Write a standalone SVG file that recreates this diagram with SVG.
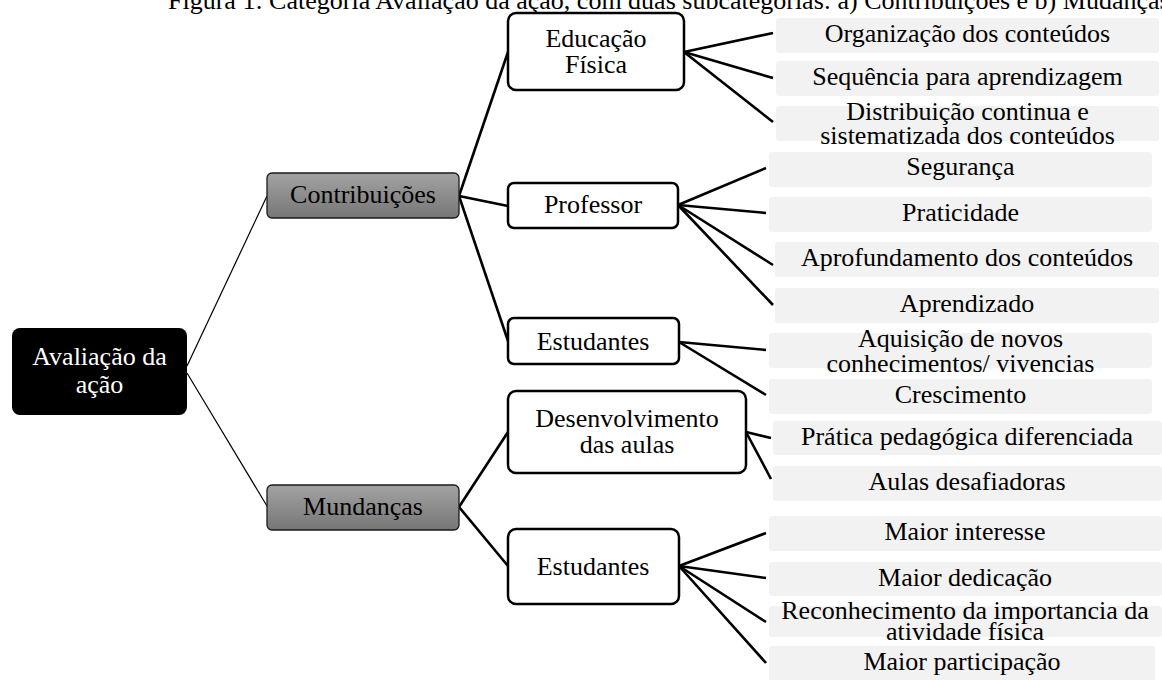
<svg xmlns="http://www.w3.org/2000/svg" width="1162" height="680" viewBox="0 0 1162 680">
<style>
text{font-family:"Liberation Serif","Times New Roman",serif;font-size:26px;fill:#000;text-anchor:middle}
.title{text-anchor:start}
.root rect{fill:#000}
.root text{fill:#fff}
.cat rect{fill:url(#g);stroke:#1a1a1a;stroke-width:1.3}
.sub rect{fill:#fff;stroke:#000;stroke-width:2.5}
.leaf rect{fill:#f2f2f2}
.thin{stroke:#000;stroke-width:1.2;fill:none}
.thick{stroke:#000;stroke-width:2.6;fill:none}
</style>
<defs>
<linearGradient id="g" x1="0" y1="0" x2="0" y2="1">
<stop offset="0" stop-color="#a3a3a3"/>
<stop offset="1" stop-color="#767676"/>
</linearGradient>
</defs>
<rect width="1162" height="680" fill="#fff"/>
<text class="title" x="168" y="9">Figura 1: Categoria Avaliação da ação, com duas subcategorias: a) Contribuições e b) Mudanças</text>
<g id="connectors">
<path class="thin" d="M187,366 L267,196"/>
<path class="thin" d="M187,373 L267,506"/>
<path class="thick" d="M459,196 L508,52"/>
<path class="thick" d="M459,196 L508,206"/>
<path class="thick" d="M459,196 L508,341"/>
<path class="thick" d="M459,507 L508,432"/>
<path class="thick" d="M459,507 L508,566"/>
<path class="thick" d="M684,52 L773,33"/>
<path class="thick" d="M684,52 L773,78"/>
<path class="thick" d="M684,52 L773,122"/>
<path class="thick" d="M678,205 L766,168"/>
<path class="thick" d="M678,205 L766,213"/>
<path class="thick" d="M678,205 L773,265"/>
<path class="thick" d="M678,205 L773,305"/>
<path class="thick" d="M679,342 L766,350"/>
<path class="thick" d="M679,342 L766,395"/>
<path class="thick" d="M746,432 L771,438"/>
<path class="thick" d="M746,432 L771,479"/>
<path class="thick" d="M679,566 L766,533"/>
<path class="thick" d="M679,566 L766,578"/>
<path class="thick" d="M679,566 L766,622"/>
<path class="thick" d="M679,566 L766,663"/>
</g>
<g id="root" class="root"><rect x="12" y="328" width="175" height="87" rx="8"/><text x="99.5" y="365">Avaliação da</text><text x="99.5" y="393">ação</text></g>
<g id="contribuicoes" class="cat"><rect x="267" y="173" width="192" height="45" rx="5"/><text x="363" y="203">Contribuições</text></g>
<g id="mundancas" class="cat"><rect x="267" y="485" width="192" height="45" rx="5"/><text x="363" y="515">Mundanças</text></g>
<g id="educacao" class="sub"><rect x="508" y="13" width="176" height="77" rx="8"/><text x="596" y="47">Educação</text><text x="596" y="73">Física</text></g>
<g id="professor" class="sub"><rect x="508" y="183" width="170" height="45" rx="6"/><text x="593" y="213">Professor</text></g>
<g id="estudantes1" class="sub"><rect x="508" y="318" width="171" height="46" rx="6"/><text x="593" y="350">Estudantes</text></g>
<g id="desenvolvimento" class="sub"><rect x="508" y="391" width="238" height="82" rx="8"/><text x="627" y="427">Desenvolvimento</text><text x="627" y="453">das aulas</text></g>
<g id="estudantes2" class="sub"><rect x="508" y="529" width="171" height="75" rx="8"/><text x="593" y="575">Estudantes</text></g>
<g id="leaf-org" class="leaf"><rect x="776" y="18" width="383" height="35" rx="3"/><text x="967.5" y="42">Organização dos conteúdos</text></g>
<g id="leaf-seq" class="leaf"><rect x="776" y="61" width="383" height="35" rx="3"/><text x="967.5" y="85">Sequência para aprendizagem</text></g>
<g id="leaf-dist" class="leaf"><rect x="776" y="106" width="383" height="35" rx="3"/><text x="967.5" y="120">Distribuição continua e</text><text x="967.5" y="144">sistematizada dos conteúdos</text></g>
<g id="leaf-seg" class="leaf"><rect x="769" y="152" width="383" height="35" rx="3"/><text x="960.5" y="175">Segurança</text></g>
<g id="leaf-prat" class="leaf"><rect x="769" y="197" width="383" height="35" rx="3"/><text x="960.5" y="221">Praticidade</text></g>
<g id="leaf-aprof" class="leaf"><rect x="775" y="242" width="384" height="35" rx="3"/><text x="967" y="266">Aprofundamento dos conteúdos</text></g>
<g id="leaf-aprend" class="leaf"><rect x="775" y="288" width="384" height="35" rx="3"/><text x="967" y="312">Aprendizado</text></g>
<g id="leaf-aquis" class="leaf"><rect x="769" y="333" width="383" height="35" rx="3"/><text x="960.5" y="347">Aquisição de novos</text><text x="960.5" y="372">conhecimentos/ vivencias</text></g>
<g id="leaf-cresc" class="leaf"><rect x="769" y="379" width="383" height="35" rx="3"/><text x="960.5" y="403">Crescimento</text></g>
<g id="leaf-pratica" class="leaf"><rect x="773" y="421" width="389" height="34" rx="3"/><text x="967" y="445">Prática pedagógica diferenciada</text></g>
<g id="leaf-aulas" class="leaf"><rect x="773" y="466" width="389" height="35" rx="3"/><text x="967" y="490">Aulas desafiadoras</text></g>
<g id="leaf-interesse" class="leaf"><rect x="769" y="516" width="393" height="35" rx="3"/><text x="965" y="540">Maior interesse</text></g>
<g id="leaf-dedic" class="leaf"><rect x="769" y="562" width="393" height="34" rx="3"/><text x="965" y="586">Maior dedicação</text></g>
<g id="leaf-recon" class="leaf"><rect x="769" y="606" width="393" height="31" rx="3"/><text x="965" y="619">Reconhecimento da importancia da</text><text x="965" y="640">atividade física</text></g>
<g id="leaf-partic" class="leaf"><rect x="769" y="646" width="386" height="40" rx="3"/><text x="962" y="670">Maior participação</text></g>
</svg>
